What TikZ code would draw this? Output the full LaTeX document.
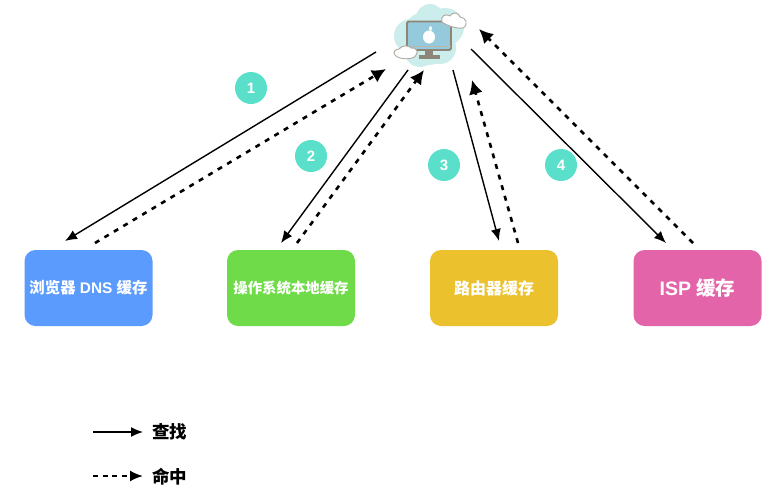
\documentclass[tikz,border=0pt]{standalone}
\usepackage{fontspec}
\setmainfont{Liberation Sans}
\newfontfamily\cjk{Noto Sans CJK SC}
\usetikzlibrary{arrows.meta}
\definecolor{bluebox}{HTML}{5B9BFE}
\definecolor{greenbox}{HTML}{70DB49}
\definecolor{yellowbox}{HTML}{EBC22D}
\definecolor{pinkbox}{HTML}{E364A8}
\definecolor{badge}{HTML}{5ADFCB}
\definecolor{haze}{HTML}{CBEDEB}
\definecolor{screenblue}{HTML}{94CADB}
\definecolor{framegrey}{HTML}{8F8478}
\tikzset{
  cachebox/.style={rounded corners=11pt,minimum width=128pt,minimum height=76pt,inner sep=0pt,text=white,font=\bfseries},
  badgenode/.style={circle,fill=badge,minimum size=32pt,inner sep=0pt,text=white,font=\bfseries\fontsize{15}{15}\selectfont},
  lookup/.style={draw=black,line width=1.4pt,-{Latex[length=12pt,width=10pt]}},
  hit/.style={draw=black,line width=2.6pt,dash pattern=on 5pt off 6pt,-{Latex[length=14pt,width=14pt]}},
  legendhit/.style={draw=black,line width=2pt,dash pattern=on 5pt off 4.5pt,-{Latex[length=13pt,width=11pt]}},
  legendtext/.style={anchor=west,inner sep=0pt,font=\bfseries\fontsize{17.5}{17.5}\selectfont},
  cloudpuff/.style={fill=white,draw=framegrey!70,line width=0.9pt}
}
\begin{document}
\begin{tikzpicture}[x=1pt,y=-1pt]
\useasboundingbox (0,0) rectangle (777,501);
% computer icon
\fill[haze] (428,38) circle (27);
\fill[haze] (411,36) circle (17);
\fill[haze] (445,27) circle (19);
\fill[haze] (430,18) circle (14);
\fill[haze] (440,48) circle (16);
\fill[haze] (420,52) circle (15);
\fill[framegrey] (425,50) rectangle (433,55);
\fill[framegrey] (419,55) rectangle (440,58.5);
\draw[framegrey,line width=1.8pt,fill=screenblue,rounded corners=1.5pt] (407,21.5) rectangle (451,50);
\draw[framegrey!60,line width=1pt] (407,46) -- (451,46);
\fill[white] (429,37) ellipse (6 and 6.5);
\fill[white] (430.5,28.5) ellipse (1.4 and 2.4);
\draw[cloudpuff,fill=white] (442,22) .. controls (440,16) and (446,13) .. (450,16) .. controls (453,11) and (459,13) .. (460,17) .. controls (466,17) and (469,25) .. (463,28) .. controls (456,29) and (446,25) .. (442,22) -- cycle;
\draw[cloudpuff,fill=white] (395,55) .. controls (392,52) and (396,49) .. (399,49) .. controls (402,45) and (409,45) .. (411,48) .. controls (416,47) and (419,52) .. (416,55) .. controls (415,60) and (398,60) .. (395,55) -- cycle;
% boxes
\node[cachebox,fill=bluebox] (browser) at (88.5,288) {\fontsize{15.4}{15.4}\selectfont{\cjk 浏览器} DNS {\cjk 缓存}};
\node[cachebox,fill=greenbox] (os) at (291,288) {\fontsize{14.4}{14.4}\selectfont\cjk 操作系统本地缓存};
\node[cachebox,fill=yellowbox] (router) at (494,288) {\fontsize{16}{16}\selectfont\cjk 路由器缓存};
\node[cachebox,fill=pinkbox] (isp) at (697.5,288) {\fontsize{19.5}{19.5}\selectfont ISP {\cjk 缓存}};
% badges
\node[badgenode] (b1) at (251,88) {1};
\node[badgenode] (b2) at (311,156) {2};
\node[badgenode] (b3) at (444,165) {3};
\node[badgenode] (b4) at (561,165) {4};
% connector ends
\coordinate (a1s) at (376,52); \coordinate (a1e) at (65,241);
\coordinate (h1s) at (95,243); \coordinate (h1e) at (386,69);
\coordinate (a2s) at (408,70); \coordinate (a2e) at (281,243);
\coordinate (h2s) at (297,243); \coordinate (h2e) at (424,70);
\coordinate (a3s) at (453,70); \coordinate (a3e) at (499,241);
\coordinate (h3s) at (518,243); \coordinate (h3e) at (472,80);
\coordinate (a4s) at (471,49); \coordinate (a4e) at (666,243);
\coordinate (h4s) at (693,243); \coordinate (h4e) at (479,29);
\draw[lookup] (a1s) -- (a1e);
\draw[hit] (h1s) -- (h1e);
\draw[lookup] (a2s) -- (a2e);
\draw[hit] (h2s) -- (h2e);
\draw[lookup] (a3s) -- (a3e);
\draw[hit] (h3s) -- (h3e);
\draw[lookup] (a4s) -- (a4e);
\draw[hit] (h4s) -- (h4e);
% legend
\coordinate (l1s) at (93,432); \coordinate (l1e) at (143,432);
\coordinate (l2s) at (93,476); \coordinate (l2e) at (143,476);
\draw[lookup] (l1s) -- (l1e);
\draw[legendhit] (l2s) -- (l2e);
\node[legendtext] (t1) at (152,432) {\cjk 查找};
\node[legendtext] (t2) at (152,477) {\cjk 命中};
\end{tikzpicture}
\end{document}
